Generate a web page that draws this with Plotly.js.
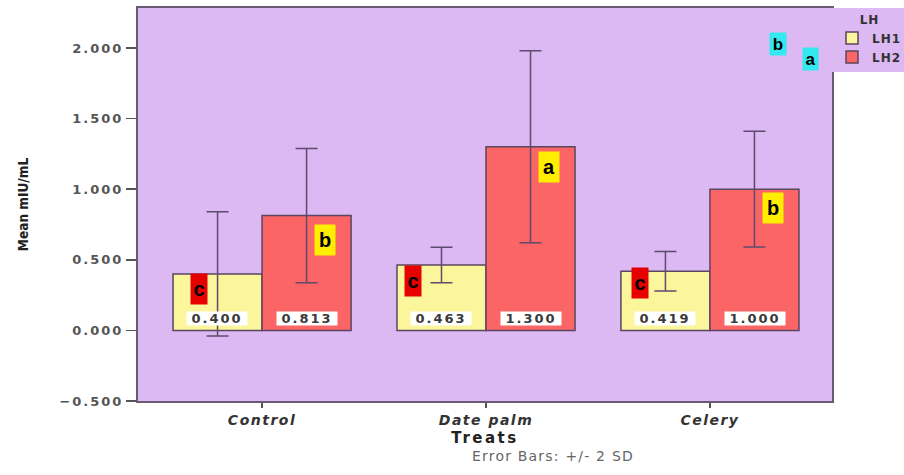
<!DOCTYPE html>
<html>
<head>
<meta charset="utf-8">
<script src="https://cdn.plot.ly/plotly-3.0.1.min.js"></script>
<style>
html,body{margin:0;padding:0;background:#fff;}
#chart{width:904px;height:475px;}
.xtick text{letter-spacing:1.5px;}
.ytick text{letter-spacing:2px;}
.g-xtitle text{letter-spacing:2.5px;}
.legendtext,.legendtitletext{letter-spacing:1px;}
</style>
<style id="annstyle"></style>
</head>
<body>
<div id="chart"></div>
<script>
const categories = ["Control", "Date palm", "Celery"];
const lh1Means = [0.400, 0.463, 0.419];
const lh2Means = [0.813, 1.300, 1.000];
const lh1Err = [0.44, 0.125, 0.14];
const lh2Err = [0.475, 0.68, 0.41];
const lh1Letters = ["c", "c", "c"];
const lh2Letters = ["b", "a", "b"];
const lh1LetterY = [0.29, 0.347, 0.333];
const lh2LetterY = [0.637, 1.154, 0.864];
const cornerLetters = ["b", "a"];

const FONT = "Liberation Sans, Arial, sans-serif";
const WIDE = "DejaVu Sans, Verdana, sans-serif";
const errStyle = {type: "data", visible: true, color: "#5e4a6c", thickness: 1.5, width: 11};
const barLine = {color: "#5a4660", width: 1.5};

const traces = [
  {type: "bar", name: "LH1", x: categories, y: lh1Means,
   marker: {color: "#fbf69c", line: barLine},
   error_y: Object.assign({array: lh1Err}, errStyle), hoverinfo: "none"},
  {type: "bar", name: "LH2", x: categories, y: lh2Means,
   marker: {color: "#fb6565", line: barLine},
   error_y: Object.assign({array: lh2Err}, errStyle), hoverinfo: "none"}
];

const PX_PER_CAT = 224;
const BAR_OFF = 0.2 * PX_PER_CAT;
const annotations = [];
const spacing = [];
function valueLabel(cat, v, shift) {
  annotations.push({x: cat, y: 0, xref: "x", yref: "y", yanchor: "bottom", yshift: 4, xshift: shift,
    text: v.toFixed(3), showarrow: false, bgcolor: "#ffffff", width: 60, height: 13, borderpad: 0,
    font: {family: WIDE, size: 13, color: "#3a3a3a", weight: "bold"}});
  spacing.push(2);
}
categories.forEach((c, i) => {
  valueLabel(c, lh1Means[i], -BAR_OFF);
  valueLabel(c, lh2Means[i], BAR_OFF);
  annotations.push({x: c, y: lh1LetterY[i], xref: "x", yref: "y", xshift: [-63, -73, -70][i],
    text: lh1Letters[i], showarrow: false, bgcolor: "#e60000", width: 16, height: 30, borderpad: 0,
    font: {family: FONT, size: 20, color: "#000", weight: "bold"}});
  spacing.push(0);
  annotations.push({x: c, y: lh2LetterY[i], xref: "x", yref: "y", xshift: 63,
    text: lh2Letters[i], showarrow: false, bgcolor: "#ffee00", width: 20, height: 30, borderpad: 0,
    font: {family: FONT, size: 20, color: "#000", weight: "bold"}});
  spacing.push(0);
});
annotations.push({x: 0.935, y: 2.025, xref: "paper", yref: "y", text: cornerLetters[0], showarrow: false,
  bgcolor: "#33e8ee", width: 16, height: 22, borderpad: 0, font: {family: FONT, size: 17, color: "#000", weight: "bold"}});
spacing.push(0);
annotations.push({x: 0.981, y: 1.919, xref: "paper", yref: "y", text: cornerLetters[1], showarrow: false,
  bgcolor: "#33e8ee", width: 15, height: 22, borderpad: 0, font: {family: FONT, size: 17, color: "#000", weight: "bold"}});
spacing.push(0);
annotations.push({x: 0.598, y: -0.5, xref: "paper", yref: "y", yanchor: "top", yshift: -45, showarrow: false,
  text: "Error Bars: +/- 2 SD", font: {family: WIDE, size: 14, color: "#666"}});
spacing.push(1.2);

document.getElementById("annstyle").textContent = spacing.map((s, i) =>
  s ? 'g.annotation[data-index="' + i + '"] text{letter-spacing:' + s + 'px;}' : '').join("\n");

const layout = {
  width: 904, height: 475,
  margin: {l: 138, r: 72, t: 8, b: 74, autoexpand: false},
  paper_bgcolor: "#ffffff", plot_bgcolor: "#dcb9f2",
  barmode: "group", bargap: 0.205, bargroupgap: 0,
  font: {family: FONT},
  showlegend: true,
  legend: {x: 1.0, xanchor: "left", y: 1, yanchor: "top", bgcolor: "#dcb9f2",
    title: {text: "LH", side: "top center", font: {family: WIDE, size: 12, color: "#333", weight: "bold"}},
    font: {family: WIDE, size: 12, color: "#333", weight: "bold"}, tracegroupgap: 0, itemwidth: 30},
  xaxis: {type: "category", range: [-0.554, 2.545], showgrid: false, zeroline: false,
    showline: true, linecolor: "#6a5a72", linewidth: 2, mirror: true,
    ticks: "outside", ticklen: 5, tickwidth: 1.5, tickcolor: "#555",
    tickfont: {family: WIDE, size: 14, color: "#333", weight: "bold", style: "italic"},
    title: {text: "Treats", standoff: 6, font: {family: WIDE, size: 15, color: "#222", weight: "bold"}}},
  yaxis: {range: [-0.5, 2.283], tickvals: [-0.5, 0, 0.5, 1, 1.5, 2], tickformat: ".3f",
    showgrid: false, zeroline: false, showline: true, linecolor: "#6a5a72", linewidth: 2, mirror: true,
    ticks: "outside", ticklen: 10, tickwidth: 1.5, tickcolor: "#555",
    tickfont: {family: WIDE, size: 13, color: "#555", weight: "bold"},
    title: {text: "Mean mIU/mL", standoff: 28, font: {family: "DejaVu Sans Condensed, Liberation Sans Narrow, sans-serif", size: 13.5, color: "#222", weight: "bold"}}},
  annotations: annotations
};

Plotly.newPlot("chart", traces, layout, {displayModeBar: false, staticPlot: true});
</script>
</body>
</html>
